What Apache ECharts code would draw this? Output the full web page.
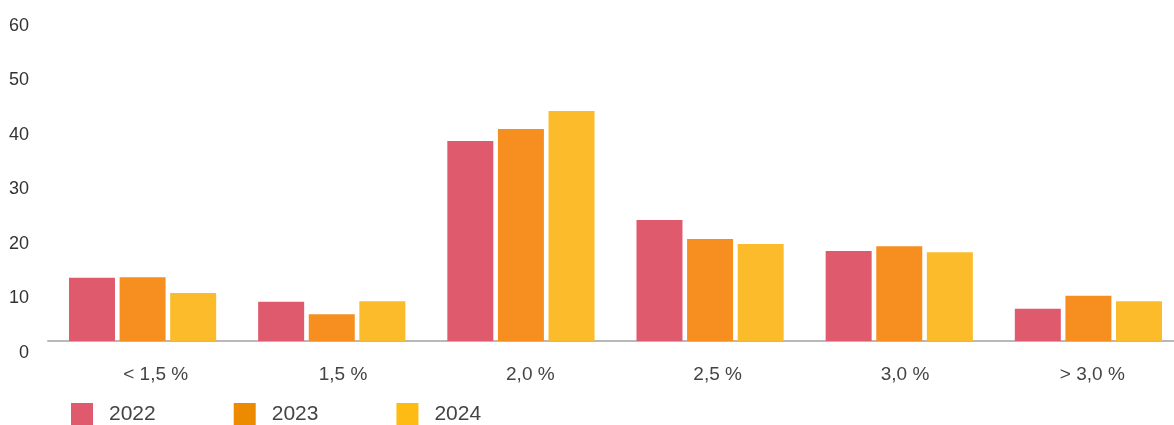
<!DOCTYPE html>
<html>
<head>
<meta charset="utf-8">
<script src="https://cdn.jsdelivr.net/npm/echarts@6/dist/echarts.min.js"></script>
<style>
html,body{margin:0;padding:0;background:#fff;}
#chart{width:1174px;height:425px;}
</style>
</head>
<body>
<div id="chart"></div>
<script>
const categories = ['< 1,5 %', '1,5 %', '2,0 %', '2,5 %', '3,0 %', '> 3,0 %'];
const years = ['2022', '2023', '2024'];
const values2022 = [11.6, 7.2, 36.7, 22.2, 16.5, 5.9];
const values2023 = [11.7, 4.9, 38.9, 18.7, 17.4, 8.3];
const values2024 = [8.8, 7.3, 42.2, 17.8, 16.3, 7.3];
const yTicks = [0, 10, 20, 30, 40, 50, 60];

const barColors = ['#E05A6E', '#F68F20', '#FCBB2A'];
const legendColors = ['#E05A6E', '#EC8B00', '#FDBB13'];
const seriesValues = [values2022, values2023, values2024];
const FONT = "'Liberation Sans', Arial, Helvetica, sans-serif";

const chart = echarts.init(document.getElementById('chart'), null, {renderer: 'canvas'});
chart.setOption({
  animation: false,
  textStyle: {fontFamily: FONT},
  grid: [
    {left: 48, width: 1135, top: 14, bottom: 84, containLabel: false, outerBoundsMode: 'none'},
    {left: 62, width: 1124, top: 14, bottom: 84, containLabel: false, outerBoundsMode: 'none'}
  ],
  legend: {
    left: 66, top: 398,
    icon: 'rect', itemWidth: 22, itemHeight: 22, itemGap: 78,
    textStyle: {fontSize: 21, color: '#444', fontFamily: FONT, padding: [0, 0, 0, 11]},
    data: years.map((y, i) => ({name: y, itemStyle: {color: legendColors[i]}}))
  },
  xAxis: [
    {
      type: 'category', gridIndex: 0, data: categories,
      axisLine: {show: true, lineStyle: {color: '#b8b8b8', width: 2}},
      axisTick: {show: false},
      axisLabel: {show: false},
      splitLine: {show: false}
    },
    {
      type: 'category', gridIndex: 1, data: categories,
      axisLine: {show: false},
      axisTick: {show: false},
      axisLabel: {show: true, fontSize: 19, color: '#444', margin: 24, fontFamily: FONT},
      splitLine: {show: false}
    }
  ],
  yAxis: [
    {
      type: 'value', gridIndex: 0, min: yTicks[0], max: yTicks[yTicks.length - 1], interval: 10,
      axisLine: {show: false}, axisTick: {show: false}, splitLine: {show: false},
      axisLabel: {fontSize: 18, color: '#333', margin: 19, verticalAlign: 'top', lineHeight: 24, fontFamily: FONT}
    },
    {
      type: 'value', gridIndex: 1, min: 0, max: 60, show: false
    }
  ],
  series: years.map((y, i) => ({
    name: y,
    type: 'bar',
    xAxisIndex: 0, yAxisIndex: 0,
    data: seriesValues[i],
    barWidth: 46,
    barGap: '10%',
    itemStyle: {color: barColors[i]},
    emphasis: {disabled: true}
  }))
});
</script>
</body>
</html>
